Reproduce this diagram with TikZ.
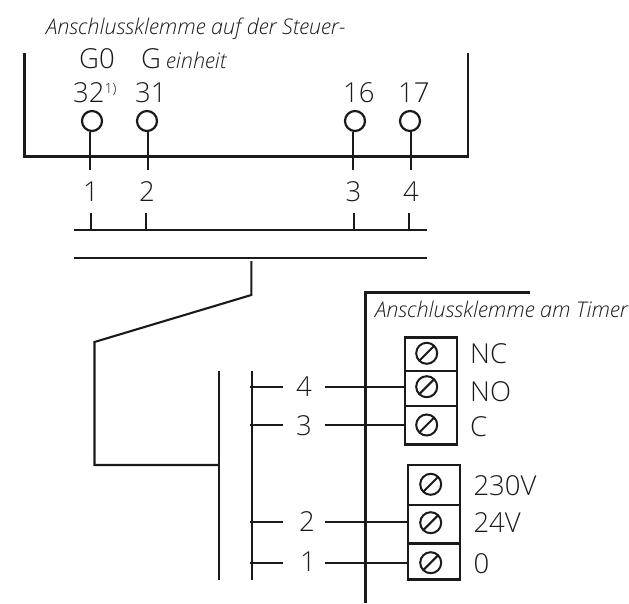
\documentclass[tikz,border=0pt]{standalone}
\usepackage{fontspec}
\setmainfont{Open Sans Light}
\newfontfamily\itf{Open Sans Light Italic}
\definecolor{ink}{HTML}{1A1A1A}
\tikzset{
 wire/.style={draw=ink,line width=2.1pt},
 frame/.style={draw=ink,line width=2.6pt},
 tframe/.style={draw=ink,line width=3pt},
 lab/.style={inner sep=0pt,text=ink,font=\fontsize{27.5}{27.5}\selectfont,anchor=base},
 labw/.style={lab,anchor=base west},
 ital/.style={inner sep=0pt,text=ink,font=\fontsize{21.6}{21.6}\selectfont\itf,anchor=base west},
 cell/.style={draw=ink,line width=2.4pt,inner sep=0pt,minimum width=52pt},
 pin/.style={circle,draw=ink,line width=2.2pt,minimum size=20pt,inner sep=0pt},
 screw/.style={circle,draw=ink,line width=2pt,minimum size=21pt,inner sep=0pt,path picture={\draw[ink,line width=2pt] (path picture bounding box.south west)++(2pt,2pt) -- ++(17pt,17pt);}},
}
\begin{document}
\begin{tikzpicture}[x=1pt,y=-1pt]
\useasboundingbox (0,0) rectangle (629,604);
% controller frame
\coordinate (fa) at (24.5,53); \coordinate (fb) at (24.5,156.5);
\coordinate (fc) at (468,156.5); \coordinate (fd) at (468,53);
\draw[frame] (fa) -- (fb) -- (fc) -- (fd);
\node[ital] (tst) at (46,35) {Anschlussklemme auf der Steuer-};
\node[labw] (g0) at (79,69) {G0};
\node[labw] (g) at (141,69) {G};
\node[ital] (ein) at (166,69) {einheit};
\node[labw] (l32) at (73,103) {32\raisebox{9pt}{\fontsize{14}{14}\selectfont 1)}};
\node[labw] (l31) at (135,103) {31};
\node[labw] (l16) at (343,103) {16};
\node[labw] (l17) at (398,103) {17};
\node[pin] (p1) at (92,121) {};
\node[pin] (p2) at (147,121) {};
\node[pin] (p3) at (355,121) {};
\node[pin] (p4) at (410,121) {};
\coordinate (e1) at (90,170); \coordinate (e2) at (148,170);
\coordinate (e3) at (353,170); \coordinate (e4) at (411,170);
\draw[wire] (p1.south -| e1) -- (e1);
\draw[wire] (p2.south -| e2) -- (e2);
\draw[wire] (p3.south -| e3) -- (e3);
\draw[wire] (p4.south -| e4) -- (e4);
\node[lab] (n1) at (91,202) {1};
\node[lab] (n2) at (147,202) {2};
\node[lab] (n3) at (353.5,202) {3};
\node[lab] (n4) at (411,202) {4};
% cable
\coordinate (ba) at (74,230); \coordinate (bb) at (427,230);
\coordinate (ca) at (74,258); \coordinate (cb) at (427,258);
\draw[wire] (ba) -- (bb);
\draw[wire] (ca) -- (cb);
\foreach \x/\i in {91/1,146/2,354/3,409/4}{
  \coordinate (t\i) at (\x,213); \coordinate (u\i) at (\x,230);
  \draw[wire] (t\i) -- (u\i);
}
\coordinate (k1) at (251.3,261); \coordinate (k2) at (251.3,295);
\coordinate (k3) at (94.5,342); \coordinate (k4) at (94.5,465); \coordinate (k5) at (218.7,465);
\draw[wire,line join=miter] (k1) -- (k2) -- (k3) -- (k4) -- (k5);
\coordinate (va) at (218.7,371); \coordinate (vb) at (218.7,580);
\coordinate (wa) at (252,371); \coordinate (wb) at (252,580);
\draw[wire] (va) -- (vb);
\draw[wire] (wa) -- (wb);
% timer frame
\coordinate (ta) at (530,292.5); \coordinate (tb) at (365.5,292.5); \coordinate (tc) at (365.5,603);
\draw[tframe] (ta) -- (tb) -- (tc);
\node[ital] (tim) at (375,317.3) {Anschlussklemme am Timer};
% terminals
\node[cell,minimum height=33.4pt] (c1) at (431,354) {};
\node[cell,minimum height=35pt] (c2) at (431,388.2) {};
\node[cell,minimum height=38.6pt] (c3) at (431,425) {};
\node[cell,minimum height=40pt] (c4) at (434,485) {};
\node[cell,minimum height=38.3pt] (c5) at (434,524.2) {};
\node[cell,minimum height=36pt] (c6) at (434,561.3) {};
\node[screw] (s1) at (426.7,353.3) {};
\node[screw] (s2) at (426.7,386.7) {};
\node[screw] (s3) at (426.7,425) {};
\node[screw] (s4) at (430.7,484.3) {};
\node[screw] (s5) at (430.7,522.7) {};
\node[screw] (s6) at (430.7,562.7) {};
\node[labw] (nc) at (470,363) {NC};
\node[labw] (no) at (470,401.7) {NO};
\node[labw] (cc) at (470,436.7) {C};
\node[labw] (v230) at (473.3,495) {230V};
\node[labw] (v24) at (473.3,532.7) {24V};
\node[labw] (v0) at (473.3,573.3) {0};
\node[lab] (m4) at (304,396) {4};
\node[lab] (m3) at (304,435) {3};
\node[lab] (m2) at (307,531) {2};
\node[lab] (m1) at (308,571.7) {1};
\foreach \i/\y/\c in {4/386.7/c2,3/425/c3,2/522/c5,1/563/c6}{
  \coordinate (la\i) at (250,\y); \coordinate (lb\i) at (283,\y); \coordinate (lc\i) at (325,\y);
  \draw[wire] (la\i) -- (lb\i);
  \draw[wire] (lc\i) -- (lc\i -| \c.west);
}
\end{tikzpicture}
\end{document}
